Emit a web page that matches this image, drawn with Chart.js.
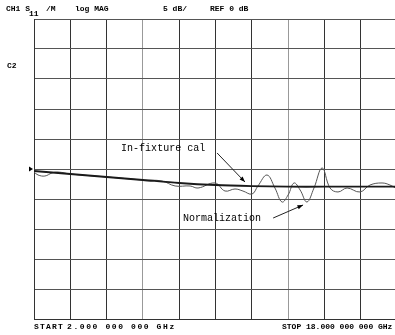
<!DOCTYPE html>
<html>
<head>
<meta charset="utf-8">
<script src="https://cdn.jsdelivr.net/npm/chart.js@4/dist/chart.umd.min.js"></script>
<style>
  html, body { margin: 0; padding: 0; background: #fff; overflow: hidden; }
  #wrap { width: 405px; height: 335px; position: relative; }
</style>
</head>
<body>
<div id="wrap"><canvas id="chart" width="405" height="335"></canvas></div>
<script>
// frequency in GHz, magnitude in dB
const inFixtureFreq = [2.0, 3.6, 5.2, 6.8, 8.4, 10.0, 11.6, 13.2, 14.8, 16.4, 18.0];
const inFixtureDb   = [-0.33, -0.83, -1.33, -1.83, -2.33, -2.67, -2.85, -2.95, -2.95, -2.95, -2.95];

const normFreq = [2.0, 2.18, 2.48, 2.79, 3.06, 3.59, 5.22, 6.8, 7.64, 8.22, 8.88, 9.23, 9.98, 10.42, 10.86, 11.21, 11.61,
                  11.87, 12.27, 12.62, 12.93, 13.2, 13.46, 13.73, 14.03, 14.34, 14.7, 15.05, 15.4, 15.8, 16.37, 16.81, 17.34, 17.69, 18.0];
const normDb   = [-0.5, -1.0, -1.17, -0.67, -0.5, -0.83, -1.33, -1.83, -2.0, -2.83, -2.83, -3.17, -2.33, -3.67, -3.33, -3.67, -4.17,
                  -2.83, -1.0, -3.17, -5.5, -4.33, -2.33, -3.5, -5.5, -3.17, 0.17, -3.17, -3.83, -3.17, -3.83, -2.67, -2.33, -2.67, -3.33];

const startGHz = 2, stopGHz = 18;
const refDb = 0, dbPerDiv = 5, divisions = 10;

function pts(xs, ys) {
  return xs.map((x, i) => ({ x: x, y: ys[i] }));
}

const monoFont = '"Liberation Mono", "DejaVu Sans Mono", monospace';

// text + arrows on top of the graticule
const annotations = {
  id: 'annotations',
  afterDraw(chart) {
    const ctx = chart.ctx;
    const xs = chart.scales.x, ys = chart.scales.y;
    const px = f => xs.getPixelForValue(f);
    const py = d => ys.getPixelForValue(d);
    ctx.save();
    ctx.fillStyle = '#000';
    ctx.textBaseline = 'middle';

    // header
    ctx.font = 'bold 8px ' + monoFont;
    ctx.fillText('CH1 S', 6, 9);
    ctx.fillText('11', 29, 14);
    ctx.fillText('/M', 46, 9);
    ctx.fillText('log MAG', 75, 9);
    ctx.fillText('5 dB/', 163, 9);
    ctx.fillText('REF 0 dB', 210, 9);
    ctx.fillText('C2', 7, 66);

    // footer
    ctx.font = 'bold 8px ' + monoFont;
    ctx.letterSpacing = '1.2px';
    ctx.fillText('START', 34, 327);
    ctx.letterSpacing = '1.6px';
    ctx.fillText('2.000 000 000 GHz', 67, 327);
    ctx.letterSpacing = '0px';
    ctx.fillText('STOP 18.000 000 000 GHz', 282, 327);

    // reference level marker
    const ry = py(refDb);
    ctx.beginPath();
    ctx.moveTo(px(startGHz) - 5, ry - 2.5);
    ctx.lineTo(px(startGHz) - 1, ry);
    ctx.lineTo(px(startGHz) - 5, ry + 2.5);
    ctx.closePath();
    ctx.fill();

    // trace labels
    ctx.font = '10px ' + monoFont;
    ctx.fillText('In-fixture cal', px(5.84), py(3.5));
    ctx.fillText('Normalization', px(8.57), py(-8.17));

    const arrow = (f0, d0, f1, d1) => {
      const x0 = px(f0), y0 = py(d0), x1 = px(f1), y1 = py(d1);
      const a = Math.atan2(y1 - y0, x1 - x0);
      ctx.strokeStyle = '#222';
      ctx.lineWidth = 1;
      ctx.beginPath();
      ctx.moveTo(x0, y0);
      ctx.lineTo(x1, y1);
      ctx.stroke();
      ctx.beginPath();
      ctx.moveTo(x1, y1);
      ctx.lineTo(x1 - 6 * Math.cos(a - 0.35), y1 - 6 * Math.sin(a - 0.35));
      ctx.lineTo(x1 - 6 * Math.cos(a + 0.35), y1 - 6 * Math.sin(a + 0.35));
      ctx.closePath();
      ctx.fill();
    };
    arrow(10.07, 2.67, 11.3, -2.17);
    arrow(12.54, -8.17, 13.86, -6.0);
    ctx.restore();
  }
};

const lightX = [3, 7];
new Chart(document.getElementById('chart'), {
  type: 'line',
  data: {
    datasets: [{
      label: 'In-fixture cal',
      data: pts(inFixtureFreq, inFixtureDb),
      borderColor: '#1a1a1a',
      borderWidth: 1.8,
      pointRadius: 0,
      tension: 0.3
    }, {
      label: 'Normalization',
      data: pts(normFreq, normDb),
      borderColor: '#555',
      borderWidth: 1,
      pointRadius: 0,
      tension: 0.4
    }]
  },
  options: {
    responsive: false,
    animation: false,
    layout: { padding: { left: 34, top: 19, right: 8, bottom: 16 } },
    plugins: { legend: { display: false }, tooltip: { enabled: false } },
    scales: {
      x: {
        type: 'linear',
        min: startGHz,
        max: stopGHz,
        afterBuildTicks: s => {
          s.ticks = Array.from({ length: divisions + 1 }, (_, i) => ({ value: startGHz + i * (stopGHz - startGHz) / divisions }));
        },
        ticks: { display: false },
        grid: {
          drawTicks: false,
          color: c => lightX.includes(c.index) ? '#999' : '#333',
          lineWidth: 1
        },
        border: { display: true, color: '#333' }
      },
      y: {
        min: refDb - dbPerDiv * divisions / 2,
        max: refDb + dbPerDiv * divisions / 2,
        afterBuildTicks: s => {
          s.ticks = Array.from({ length: divisions + 1 }, (_, i) => ({ value: s.min + i * dbPerDiv }));
        },
        ticks: { display: false },
        grid: { drawTicks: false, color: '#555', lineWidth: 1 },
        border: { display: true, color: '#333' }
      }
    }
  },
  plugins: [annotations]
});
</script>
</body>
</html>
